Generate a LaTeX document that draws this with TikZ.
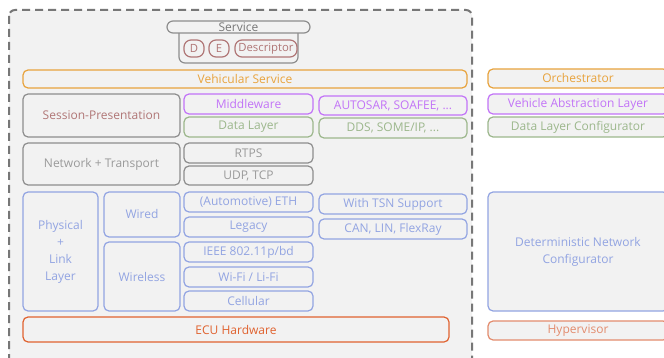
\documentclass[tikz,border=0pt]{standalone}
\usepackage{fontspec}
\setmainfont{Open Sans}
\definecolor{bgc}{HTML}{F2F2F2}
\definecolor{dashc}{HTML}{777777}
\definecolor{orc}{HTML}{E8A33D}
\definecolor{puc}{HTML}{C274F7}
\definecolor{grc}{HTML}{9CB78C}
\definecolor{gyc}{HTML}{8E8E8E}
\definecolor{gyt}{HTML}{9A9A9A}
\definecolor{brc}{HTML}{B07676}
\definecolor{blc}{HTML}{92A4E2}
\definecolor{rdc}{HTML}{E0622F}
\definecolor{hyc}{HTML}{E38C6E}
\tikzset{
  bx/.style={draw=#1, text=#1, rounded corners=5pt, line width=1.2pt, fill=bgc, inner sep=0pt,
    font=\fontsize{12}{17}\selectfont, align=center},
  bx/.default=gyc,
  smallt/.style={font=\fontsize{11.3}{17}\selectfont}
}
\newcommand\bx[7][bx]{\node[#1,minimum width={#5-#3},minimum height={#6-#4}] (#2) at ({(#3+#5)/2},{(#4+#6)/2}) {#7};}
\begin{document}
\begin{tikzpicture}[x=1pt,y=-1pt]
\useasboundingbox (0,0) rectangle (664,358);
\clip (0,0) rectangle (664,358);
\fill[white] (0,0) rectangle (664,358);
% outer dashed container
\draw[dashc, dash pattern=on 8pt off 5pt, line width=2pt, fill=bgc, rounded corners=6pt] (9,10) rectangle (472,364);
% service
\draw[gyc, line width=1.2pt, rounded corners=6pt] (179,33) -- (179,63) -- (298,63) -- (298,33);
\bx[bx=gyc, text=dashc, rounded corners=6pt]{service}{167}{21}{310}{33}{Service}
\bx[bx=brc, smallt, rounded corners=7pt]{d}{184}{40}{204}{57}{D}
\bx[bx=brc, smallt, rounded corners=7pt]{e}{209}{40}{229}{57}{E}
\bx[bx=brc, smallt, rounded corners=7pt]{desc}{235}{40}{297}{57}{Descriptor}
% layers
\bx[bx=orc]{vs}{23}{70}{467}{88}{Vehicular Service}
\bx[bx=gyc, text=brc]{sp}{23}{94}{180}{137}{Session-Presentation}
\bx[bx=puc]{mw}{184}{94}{313}{114}{Middleware}
\bx[bx=grc]{dl}{184}{117}{313}{137}{Data Layer}
\bx[bx=puc]{auto}{319}{96}{467}{115}{AUTOSAR, SOAFEE, ...}
\bx[bx=grc]{dds}{319}{118}{467}{138}{DDS, SOME/IP, ...}
\bx[bx=gyc, text=gyt]{nt}{23}{143}{180}{185}{Network + Transport}
\bx[bx=gyc, text=gyt]{rtps}{184}{143}{313}{163}{RTPS}
\bx[bx=gyc, text=gyt]{udp}{184}{166}{313}{185}{UDP, TCP}
\bx[bx=blc]{phy}{23}{192}{98}{311}{Physical\\+\\Link\\Layer}
\bx[bx=blc]{wired}{104}{192}{180}{237}{Wired}
\bx[bx=blc]{wless}{104}{242}{180}{311}{Wireless}
\bx[bx=blc]{eth}{184}{192}{313}{212}{(Automotive) ETH}
\bx[bx=blc]{leg}{184}{217}{313}{237}{Legacy}
\bx[bx=blc]{ieee}{184}{242}{313}{262}{IEEE 802.11p/bd}
\bx[bx=blc]{wifi}{184}{267}{313}{287}{Wi-Fi / Li-Fi}
\bx[bx=blc]{cell}{184}{291}{313}{311}{Cellular}
\bx[bx=blc]{tsn}{319}{194}{467}{214}{With TSN Support}
\bx[bx=blc]{can}{319}{219}{467}{239}{CAN, LIN, FlexRay}
\bx[bx=rdc]{ecu}{23}{317}{449}{342}{ECU Hardware}
% right column
\bx[bx=orc]{orch}{488}{69}{668}{88}{Orchestrator}
\bx[bx=puc]{val}{488}{94}{668}{114}{Vehicle Abstraction Layer}
\bx[bx=grc]{dlc}{488}{117}{668}{137}{Data Layer Configurator}
\bx[bx=blc]{dnc}{488}{192}{668}{311}{Deterministic Network\\Configurator}
\bx[bx=hyc]{hyp}{488}{321}{668}{340}{Hypervisor}
\end{tikzpicture}
\end{document}
